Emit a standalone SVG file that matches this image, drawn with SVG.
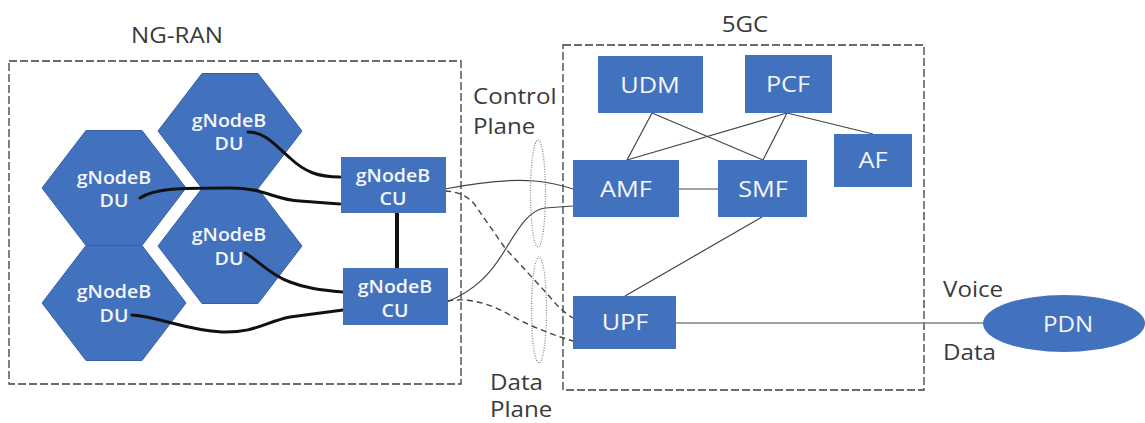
<svg xmlns="http://www.w3.org/2000/svg" width="1145" height="423" viewBox="0 0 1145 423">
<style>
  text { font-family: "Open Sans", "Liberation Sans", sans-serif; }
  .lbl { fill: #3a3a3a; font-size: 21px; }
  .wt { fill: #f4f6fa; text-anchor: middle; }
  .hx { font-size: 17.5px; font-weight: 600; }
  .bx { font-size: 22px; }
  .node { fill: #4271be; }
  .hex { fill: #4271be; stroke: #3560a6; stroke-width: 1; }
  .group { fill: none; stroke: #3c3c3c; stroke-width: 1.3; stroke-dasharray: 8 3; }
  .plane { fill: none; stroke: #8a8a8a; stroke-width: 1.3; stroke-dasharray: 1 1.5; }
  .thick { fill: none; stroke: #111; stroke-width: 3; stroke-linecap: round; }
  .thin { fill: none; stroke: #444; stroke-width: 1.2; }
  .dash { fill: none; stroke: #444; stroke-width: 1.4; stroke-dasharray: 6 4; }
  .ext { fill: none; stroke: #808080; stroke-width: 1.6; }
</style>

<g id="ng-ran">
  <rect class="group" x="9" y="61" width="452" height="323"/>
  <text class="lbl" text-anchor="middle" transform="translate(177 43) scale(1.15 1)">NG-RAN</text>
</g>
<g id="fivegc">
  <rect class="group" x="563" y="45" width="361" height="345"/>
  <text class="lbl" text-anchor="middle" transform="translate(745 32) scale(1.15 1)">5GC</text>
</g>

<g id="du-a">
  <polygon class="hex" points="158,131 202,73.5 258,73.5 302,131 258,188.5 202,188.5"/>
  <text class="wt hx" transform="translate(229 127) scale(1.12 1)">gNodeB</text>
  <text class="wt hx" transform="translate(229 150) scale(1.12 1)">DU</text>
</g>
<g id="du-b">
  <polygon class="hex" points="42,188 86,130.5 142,130.5 186,188 142,245.5 86,245.5"/>
  <text class="wt hx" transform="translate(114 184) scale(1.12 1)">gNodeB</text>
  <text class="wt hx" transform="translate(114 207) scale(1.12 1)">DU</text>
</g>
<g id="du-c">
  <polygon class="hex" points="158,246 202,188.5 258,188.5 302,246 258,303.5 202,303.5"/>
  <text class="wt hx" transform="translate(229 241) scale(1.12 1)">gNodeB</text>
  <text class="wt hx" transform="translate(229 265) scale(1.12 1)">DU</text>
</g>
<g id="du-d">
  <polygon class="hex" points="42,303 86,245.5 142,245.5 186,303 142,360.5 86,360.5"/>
  <text class="wt hx" transform="translate(114 298) scale(1.12 1)">gNodeB</text>
  <text class="wt hx" transform="translate(114 322) scale(1.12 1)">DU</text>
</g>

<g id="connectors">
  <path class="thick" d="M248,132 C265,132 275,145 290,158 C305,172 318,177 340,177"/>
  <path class="thick" d="M140,198 C155,188 180,188 230,188 C265,188 275,200 300,201 L340,204"/>
  <path class="thick" d="M245,253 C258,260 270,275 290,282 C305,288 320,290 343,292"/>
  <path class="thick" d="M132,315 C160,317 185,330 222,332 C255,333 265,322 290,317 L343,310"/>
  <line class="thick" x1="397" y1="213" x2="397" y2="269" style="stroke-width:4;stroke-linecap:butt"/>
  <path class="thin" d="M445,189 Q500,178 535,181 Q555,183 573,189"/>
  <path class="thin" d="M447,302 C475,290 490,275 505,250 C520,225 530,210 545,208 L573,206"/>
  <path class="dash" d="M445,191 Q465,192 475,205 L505,248 Q530,275 550,297 Q560,310 573,318"/>
  <path class="dash" d="M447,301 C470,297 490,304 510,315 C530,326 550,334 573,341"/>
  <line class="thin" x1="652" y1="113" x2="627" y2="160"/>
  <line class="thin" x1="652" y1="113" x2="763" y2="160"/>
  <line class="thin" x1="787" y1="113" x2="627" y2="160"/>
  <line class="thin" x1="787" y1="113" x2="763" y2="160"/>
  <line class="thin" x1="787" y1="113" x2="873" y2="134"/>
  <line class="thin" x1="679" y1="189" x2="718" y2="189"/>
  <line class="thin" x1="762" y1="217" x2="625" y2="296"/>
  <line class="ext" x1="676" y1="323" x2="983" y2="323"/>
</g>

<g id="cu-1">
  <rect class="node" x="341" y="157" width="105" height="56"/>
  <text class="wt hx" transform="translate(393 182) scale(1.12 1)">gNodeB</text>
  <text class="wt hx" transform="translate(393 205) scale(1.12 1)">CU</text>
</g>
<g id="cu-2">
  <rect class="node" x="343" y="268" width="105" height="57"/>
  <text class="wt hx" transform="translate(395 293) scale(1.12 1)">gNodeB</text>
  <text class="wt hx" transform="translate(395 317) scale(1.12 1)">CU</text>
</g>

<g id="control-plane">
  <ellipse class="plane" cx="538" cy="193.5" rx="7.5" ry="53.5"/>
  <text class="lbl" transform="translate(473 104) scale(1.15 1)">Control</text>
  <text class="lbl" transform="translate(473 134) scale(1.15 1)">Plane</text>
</g>
<g id="data-plane">
  <ellipse class="plane" cx="539" cy="310" rx="7.5" ry="53"/>
  <text class="lbl" transform="translate(490 390) scale(1.15 1)">Data</text>
  <text class="lbl" transform="translate(490 417) scale(1.15 1)">Plane</text>
</g>

<g id="udm">
  <rect class="node" x="598" y="56" width="105" height="57"/>
  <text class="wt bx" transform="translate(650 93) scale(1.15 1)">UDM</text>
</g>
<g id="pcf">
  <rect class="node" x="745" y="55" width="87" height="58"/>
  <text class="wt bx" transform="translate(788 92) scale(1.15 1)">PCF</text>
</g>
<g id="af">
  <rect class="node" x="834" y="134" width="78" height="53"/>
  <text class="wt bx" transform="translate(873 168) scale(1.15 1)">AF</text>
</g>
<g id="amf">
  <rect class="node" x="573" y="160" width="106" height="57"/>
  <text class="wt bx" transform="translate(626 197) scale(1.15 1)">AMF</text>
</g>
<g id="smf">
  <rect class="node" x="718" y="160" width="89" height="57"/>
  <text class="wt bx" transform="translate(763 197) scale(1.15 1)">SMF</text>
</g>
<g id="upf">
  <rect class="node" x="573" y="296" width="103" height="53"/>
  <text class="wt bx" transform="translate(625 330) scale(1.15 1)">UPF</text>
</g>
<g id="pdn">
  <ellipse class="node" cx="1064" cy="323.5" rx="81" ry="28.5"/>
  <text class="wt" style="font-size:21px" transform="translate(1068 332) scale(1.15 1)">PDN</text>
</g>

<text class="lbl" transform="translate(943 297) scale(1.15 1)">Voice</text>
<text class="lbl" transform="translate(943 360) scale(1.15 1)">Data</text>
</svg>
